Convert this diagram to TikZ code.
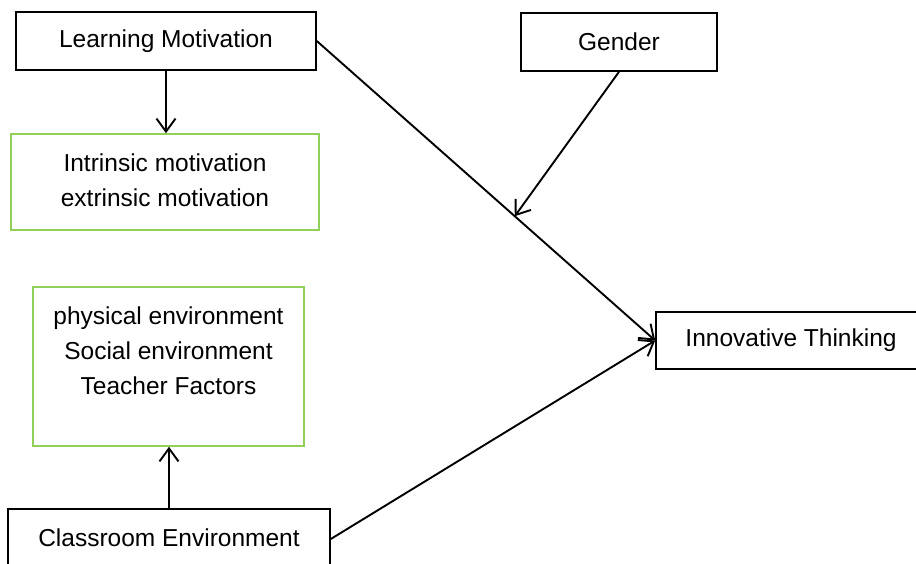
\documentclass[tikz,border=0pt]{standalone}
\usepackage{fontspec}
\setmainfont{Liberation Sans}
\usetikzlibrary{arrows.meta,calc}
\definecolor{boxgreen}{RGB}{145,208,90}
\begin{document}
\begin{tikzpicture}[x=1pt,y=-1pt,
  every node/.style={font=\fontsize{24.5}{35}\selectfont, inner sep=0pt, align=center},
  bbox/.style={draw=black, line width=1.6pt, rectangle},
  gbox/.style={draw=boxgreen, line width=1.6pt, rectangle},
  arr/.style={line width=1.9pt, -{Straight Barb[length=13pt,width=19pt,line width=1.9pt]}}]
\useasboundingbox (0,0) rectangle (916,563);
\node[bbox, minimum width=300, minimum height=58] (lm) at (166,41) {Learning Motivation};
\node[bbox, minimum width=196, minimum height=58] (gender) at (619,42) {Gender};
\node[gbox, minimum width=308, minimum height=96] (im) at (165,182) {\raisebox{2pt}{\begin{tabular}{@{}c@{}}Intrinsic motivation\\[0pt]extrinsic motivation\end{tabular}}};
\node[gbox, minimum width=271, minimum height=159,
  label={[anchor=north, yshift=-20pt, align=center, font=\fontsize{24.5}{35}\selectfont]north:physical environment\\Social environment\\Teacher Factors}] (pe) at (168.5,366.5) {};
\node[bbox, minimum width=322, minimum height=60] (ce) at (169,539) {\raisebox{3pt}{Classroom Environment}};
\node[bbox, minimum width=270, minimum height=57] (it) at (791,340.5) {\raisebox{-1pt}{Innovative Thinking}};
\coordinate (m) at ($(lm.east)!0.585!(it.west)$);
\draw[arr] (lm.south) -- (lm.south |- im.north);
\draw[arr] (lm.east) -- (it.west);
\draw[arr] (gender.south) -- (m);
\draw[arr] (ce.north) -- (ce.north |- pe.south);
\draw[arr] (ce.east) -- (it.west);
\end{tikzpicture}
\end{document}
